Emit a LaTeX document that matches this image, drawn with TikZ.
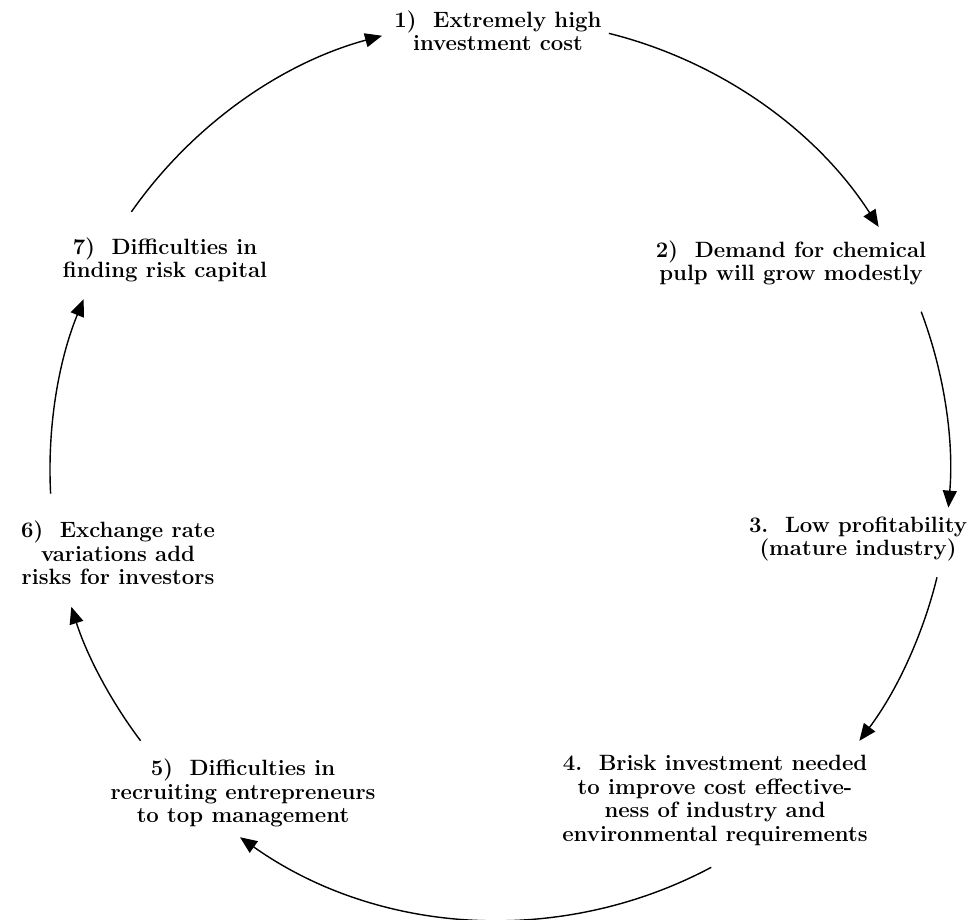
\documentclass[tikz,border=0pt]{standalone}
\usepackage{tikz}
\usetikzlibrary{arrows.meta}
\tikzset{
  lbl/.style={align=center, inner sep=0pt,
              font=\fontsize{12.6}{13.4}\selectfont\bfseries},
  arr/.style={-{Triangle[length=3.4mm,width=2.8mm]}, line width=0.8pt},
}
\begin{document}
\begin{tikzpicture}
  \useasboundingbox (0,0) rectangle (19.42,18.4);
  \coordinate (ctr) at (10,9);
  \node[lbl] (cost)   at (9.96,17.78) {1)\ \ Extremely high\\investment cost};
  \node[lbl] (demand) at (15.82,13.14) {2)\ \ Demand for chemical\\pulp will grow modestly};
  \node[lbl] (profit) at (17.16,7.62) {3.\ \ Low profitability\\(mature industry)};
  \node[lbl] (brisk)  at (14.3,2.39) {4.\ \ Brisk investment needed\\to improve cost effective-\\ness of industry and\\environmental requirements};
  \node[lbl] (recruit) at (4.86,2.54) {5)\ \ Difficulties in\\recruiting entrepreneurs\\to top management};
  \node[lbl] (rate)   at (2.36,7.34) {6)\ \ Exchange rate\\variations add\\risks for investors};
  \node[lbl] (riskcap) at (3.3,13.2) {7)\ \ Difficulties in\\finding risk capital};
  % arcs of one circle round ctr
  \draw[arr] ([shift={(145:9)}]ctr) arc[start angle=145, end angle=105.2, radius=9];
  \draw[arr] ([shift={(76:9)}]ctr) arc[start angle=76, end angle=32.7, radius=9];
  \draw[arr] ([shift={(20.6:9)}]ctr) arc[start angle=20.6, end angle=-4.8, radius=9];
  \draw[arr] ([shift={(-13.8:9)}]ctr) arc[start angle=-13.8, end angle=-37, radius=9];
  \draw[arr] ([shift={(-62:9)}]ctr) arc[start angle=-62, end angle=-125.3, radius=9];
  \draw[arr] ([shift={(-143:9)}]ctr) arc[start angle=-143, end angle=-162.3, radius=9];
  \draw[arr] ([shift={(183:9)}]ctr) arc[start angle=183, end angle=157.7, radius=9];
\end{tikzpicture}
\end{document}
